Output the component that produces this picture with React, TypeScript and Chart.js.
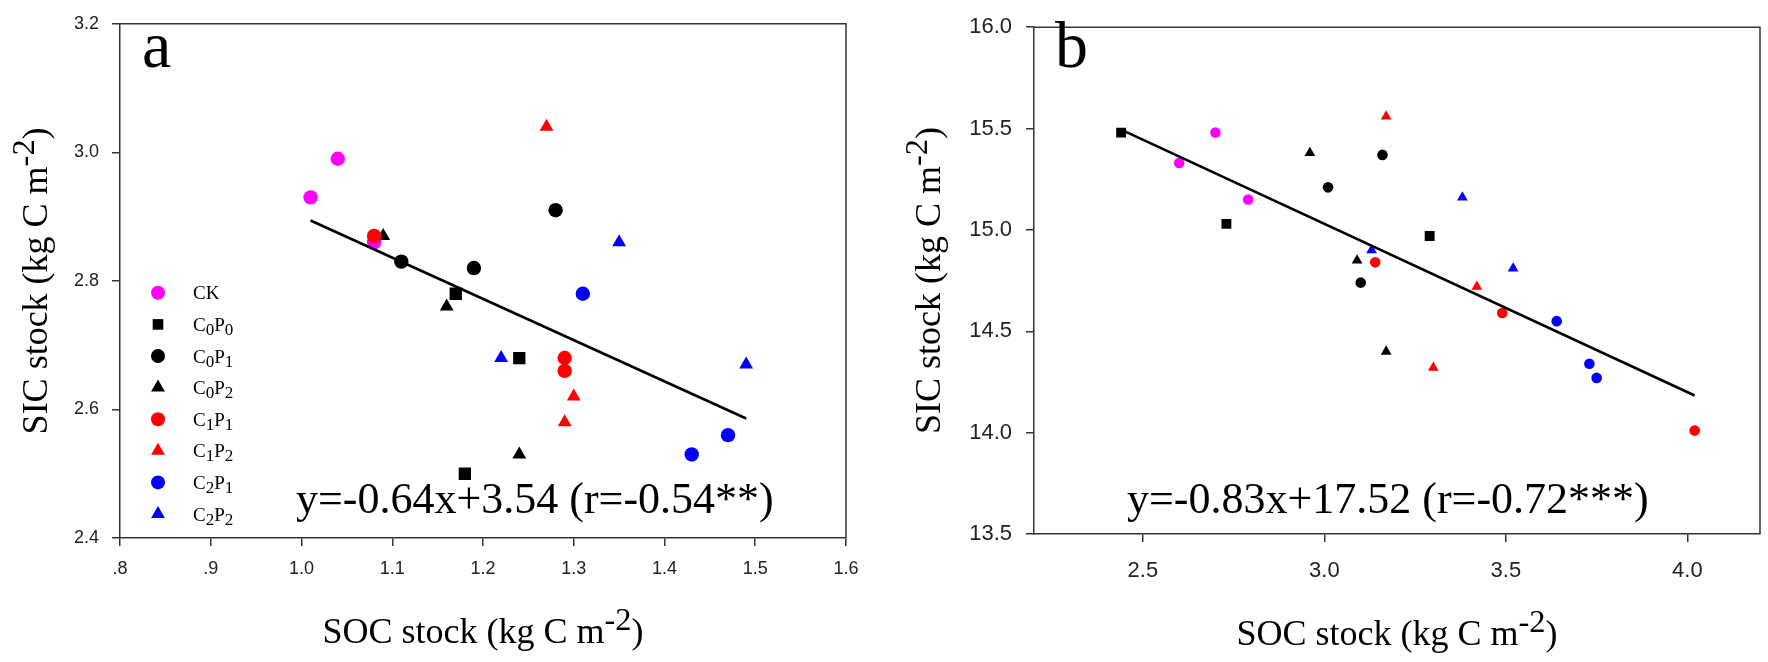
import React, { useEffect, useRef } from "react";
import { Chart, registerables } from "chart.js";
Chart.register(...registerables);

const SERIF = '"Liberation Serif", "Times New Roman", serif';
const SANS = '"Liberation Sans", Arial, sans-serif';

// ---- shared group definitions ----
const groups = ["CK", "C0P0", "C0P1", "C0P2", "C1P1", "C1P2", "C2P1", "C2P2"];
const groupColors = ["#FF00FF", "#000000", "#000000", "#000000", "#FF0000", "#FF0000", "#0000FF", "#0000FF"];
const groupShapes = ["circle", "rect", "circle", "triangle", "circle", "triangle", "circle", "triangle"];

// ---- panel a data (SOC vs SIC) ----
const socA = [
  [1.01, 1.04, 1.08],
  [1.17, 1.24, 1.18],
  [1.11, 1.19, 1.28],
  [1.09, 1.16, 1.24],
  [1.08, 1.29, 1.29],
  [1.27, 1.3, 1.29],
  [1.31, 1.47, 1.43],
  [1.35, 1.22, 1.49],
];
const sicA = [
  [2.93, 2.99, 2.86],
  [2.78, 2.68, 2.5],
  [2.83, 2.82, 2.91],
  [2.87, 2.76, 2.53],
  [2.87, 2.68, 2.66],
  [3.04, 2.62, 2.58],
  [2.78, 2.56, 2.53],
  [2.86, 2.68, 2.67],
];
const fitSocA = [1.01, 1.49];
const fitSicA = [2.894, 2.586];
const equationA = "y=-0.64x+3.54 (r=-0.54**)";
const xTicksA = [0.8, 0.9, 1.0, 1.1, 1.2, 1.3, 1.4, 1.5, 1.6];
const xTickLabelsA = [".8", ".9", "1.0", "1.1", "1.2", "1.3", "1.4", "1.5", "1.6"];
const yTicksA = [2.4, 2.6, 2.8, 3.0, 3.2];
const yTickLabelsA = ["2.4", "2.6", "2.8", "3.0", "3.2"];

// ---- panel b data ----
const socB = [
  [2.6, 2.7, 2.79],
  [2.44, 2.73, 3.29],
  [3.16, 3.01, 3.1],
  [2.96, 3.09, 3.17],
  [3.14, 3.49, 4.02],
  [3.17, 3.42, 3.3],
  [3.64, 3.73, 3.75],
  [3.38, 3.13, 3.52],
];
const sicB = [
  [15.33, 15.48, 15.15],
  [15.48, 15.03, 14.97],
  [15.37, 15.21, 14.74],
  [15.38, 14.85, 14.4],
  [14.84, 14.59, 14.01],
  [15.56, 14.72, 14.32],
  [14.55, 14.34, 14.27],
  [15.16, 14.9, 14.81],
];
const fitSocB = [2.44, 4.02];
const fitSicB = [15.495, 14.183];
const equationB = "y=-0.83x+17.52 (r=-0.72***)";
const xTicksB = [2.5, 3.0, 3.5, 4.0];
const xTickLabelsB = ["2.5", "3.0", "3.5", "4.0"];
const yTicksB = [13.5, 14.0, 14.5, 15.0, 15.5, 16.0];
const yTickLabelsB = ["13.5", "14.0", "14.5", "15.0", "15.5", "16.0"];

interface Part { t: string; s?: number; dy?: number }

function drawParts(ctx: CanvasRenderingContext2D, parts: Part[], x: number, y: number, size: number, align: "left" | "center") {
  ctx.textBaseline = "alphabetic";
  ctx.textAlign = "left";
  const widths = parts.map((p) => {
    ctx.font = `${(p.s ?? 1) * size}px ${SERIF}`;
    return ctx.measureText(p.t).width;
  });
  const w = widths.reduce((a, b) => a + b, 0);
  let cx = align === "center" ? x - w / 2 : x;
  parts.forEach((p, i) => {
    ctx.font = `${(p.s ?? 1) * size}px ${SERIF}`;
    ctx.fillText(p.t, cx, y + (p.dy ?? 0));
    cx += widths[i];
  });
}

function nameParts(name: string): Part[] {
  return name.split("").map((c) => (/[0-9]/.test(c) ? { t: c, s: 0.9, dy: 4 } : { t: c }));
}

function drawMarker(ctx: CanvasRenderingContext2D, shape: string, x: number, y: number, r: number, color: string) {
  ctx.fillStyle = color;
  ctx.beginPath();
  if (shape === "circle") {
    ctx.arc(x, y, r, 0, Math.PI * 2);
  } else if (shape === "rect") {
    const s = Math.SQRT1_2 * r;
    ctx.rect(x - s, y - s, 2 * s, 2 * s);
  } else {
    let rad = 0;
    ctx.moveTo(x + Math.sin(rad) * r, y - Math.cos(rad) * r);
    rad += (2 * Math.PI) / 3;
    ctx.lineTo(x + Math.sin(rad) * r, y - Math.cos(rad) * r);
    rad += (2 * Math.PI) / 3;
    ctx.lineTo(x + Math.sin(rad) * r, y - Math.cos(rad) * r);
    ctx.closePath();
  }
  ctx.fill();
}

interface Spec {
  letter: string;
  equation: string;
  soc: number[][];
  sic: number[][];
  fitX: number[];
  fitY: number[];
  xTicks: number[];
  xLabels: string[];
  yTicks: number[];
  yLabels: string[];
  xMin: number; xMax: number; yMin: number; yMax: number;
  padTop: number; padRight: number; yAxisW: number; xAxisH: number;
  tickFont: number; xPad: number; yPad: number;
  radii: Record<string, number>;
  eqX: number; eqY: number; letterX: number; letterY: number;
  yTitleX: number; xTitleY: number;
  legend: boolean;
}

const specA: Spec = {
  letter: "a", equation: equationA, soc: socA, sic: sicA, fitX: fitSocA, fitY: fitSicA,
  xTicks: xTicksA, xLabels: xTickLabelsA, yTicks: yTicksA, yLabels: yTickLabelsA,
  xMin: 0.8, xMax: 1.6, yMin: 2.4, yMax: 3.2,
  padTop: 17, padRight: 38, yAxisW: 120, xAxisH: 124,
  tickFont: 18, xPad: 12, yPad: 13,
  radii: { circle: 7.2, rect: 8.7, triangle: 8 },
  eqX: 296, eqY: 513, letterX: 142, letterY: 67,
  yTitleX: 47, xTitleY: 643, legend: true,
};

const specB: Spec = {
  letter: "b", equation: equationB, soc: socB, sic: sicB, fitX: fitSocB, fitY: fitSicB,
  xTicks: xTicksB, xLabels: xTickLabelsB, yTicks: yTicksB, yLabels: yTickLabelsB,
  xMin: 2.2, xMax: 4.2, yMin: 13.5, yMax: 16.0,
  padTop: 14, padRight: 8, yAxisW: 150, xAxisH: 128,
  tickFont: 22, xPad: 16, yPad: 14,
  radii: { circle: 5.3, rect: 7, triangle: 6.2 },
  eqX: 243, eqY: 513, letterX: 171, letterY: 67,
  yTitleX: 56, xTitleY: 645, legend: false,
};

function buildChart(canvas: HTMLCanvasElement, p: Spec) {
  const datasets: any[] = [
    {
      type: "scatter",
      data: p.fitX.map((x, i) => ({ x, y: p.fitY[i] })),
      showLine: true,
      borderColor: "#000",
      borderWidth: 2.6,
      pointRadius: 0,
      order: 0,
    },
  ];
  groups.forEach((g, gi) => {
    datasets.push({
      label: g,
      data: p.soc[gi].map((x, i) => ({ x, y: p.sic[gi][i] })),
      pointStyle: groupShapes[gi],
      pointRadius: p.radii[groupShapes[gi]],
      pointHoverRadius: p.radii[groupShapes[gi]],
      backgroundColor: groupColors[gi],
      borderColor: groupColors[gi],
      pointBorderWidth: 0,
      order: 10 - gi,
    });
  });

  const decor = {
    id: "decor",
    afterDraw(chart: any) {
      const ctx: CanvasRenderingContext2D = chart.ctx;
      const ca = chart.chartArea;
      ctx.save();
      ctx.strokeStyle = "#333";
      ctx.lineWidth = 1.5;
      ctx.beginPath();
      ctx.moveTo(ca.left, ca.top);
      ctx.lineTo(ca.right, ca.top);
      ctx.lineTo(ca.right, ca.bottom);
      ctx.stroke();

      ctx.fillStyle = "#000";
      ctx.font = `66px ${SERIF}`;
      ctx.textAlign = "left";
      ctx.textBaseline = "alphabetic";
      ctx.fillText(p.letter, p.letterX, p.letterY);

      drawParts(ctx, [{ t: p.equation }], p.eqX, p.eqY, 44, "left");

      const titleParts = (main: string): Part[] => [
        { t: main },
        { t: "-2", s: 0.9, dy: -13 },
        { t: ")" },
      ];
      drawParts(ctx, titleParts("SOC stock (kg C m"), (ca.left + ca.right) / 2, p.xTitleY, 36, "center");
      ctx.save();
      ctx.translate(p.yTitleX, (ca.top + ca.bottom) / 2);
      ctx.rotate(-Math.PI / 2);
      ctx.fillStyle = "#000";
      drawParts(ctx, titleParts("SIC stock (kg C m"), 0, 0, 36, "center");
      ctx.restore();

      if (p.legend) {
        const mx = ca.left + 38;
        const tx = ca.left + 73;
        const legendRadii: Record<string, number> = { circle: 7, rect: 7.5, triangle: 8 };
        groups.forEach((g, gi) => {
          const cy = ca.top + 269 + gi * 31.6;
          drawMarker(ctx, groupShapes[gi], mx, cy, legendRadii[groupShapes[gi]], groupColors[gi]);
          ctx.fillStyle = "#000";
          drawParts(ctx, nameParts(g), tx, cy + 6.5, 19, "left");
        });
      }
      ctx.restore();
    },
  };

  const axisCommon = {
    grid: { display: true, drawOnChartArea: false, drawTicks: true, tickLength: 8, color: "#333", lineWidth: 1.5 },
    border: { display: true, color: "#333", width: 1.5 },
  };

  return new Chart(canvas, {
    type: "scatter",
    data: { datasets },
    options: {
      animation: false,
      responsive: false,
      devicePixelRatio: 1,
      layout: { padding: { left: 0, right: p.padRight, top: p.padTop, bottom: 0 } },
      plugins: { legend: { display: false }, tooltip: { enabled: false } },
      scales: {
        x: {
          type: "linear",
          min: p.xMin,
          max: p.xMax,
          ...axisCommon,
          afterBuildTicks: (s: any) => {
            s.ticks = p.xTicks.map((v) => ({ value: v }));
          },
          afterFit: (s: any) => {
            s.height = p.xAxisH;
          },
          ticks: {
            callback: (_v: any, i: number) => p.xLabels[i],
            font: { family: SANS, size: p.tickFont },
            color: "#222",
            padding: p.xPad,
            maxRotation: 0,
            autoSkip: false,
          },
        },
        y: {
          type: "linear",
          min: p.yMin,
          max: p.yMax,
          ...axisCommon,
          afterBuildTicks: (s: any) => {
            s.ticks = p.yTicks.map((v) => ({ value: v }));
          },
          afterFit: (s: any) => {
            s.width = p.yAxisW;
          },
          ticks: {
            callback: (_v: any, i: number) => p.yLabels[i],
            font: { family: SANS, size: p.tickFont },
            color: "#222",
            padding: p.yPad,
            autoSkip: false,
          },
        },
      },
    } as any,
    plugins: [decor],
  } as any);
}

export default function App() {
  const refA = useRef<HTMLCanvasElement>(null);
  const refB = useRef<HTMLCanvasElement>(null);
  useEffect(() => {
    const a = buildChart(refA.current!, specA);
    const b = buildChart(refB.current!, specB);
    return () => {
      a.destroy();
      b.destroy();
    };
  }, []);
  return (
    <div style={{ position: "absolute", left: 0, top: 0, width: 1768, height: 662, background: "#fff" }}>
      <canvas ref={refA} width={884} height={662} style={{ position: "absolute", left: 0, top: 0, width: 884, height: 662 }} />
      <canvas ref={refB} width={884} height={662} style={{ position: "absolute", left: 884, top: 0, width: 884, height: 662 }} />
    </div>
  );
}
